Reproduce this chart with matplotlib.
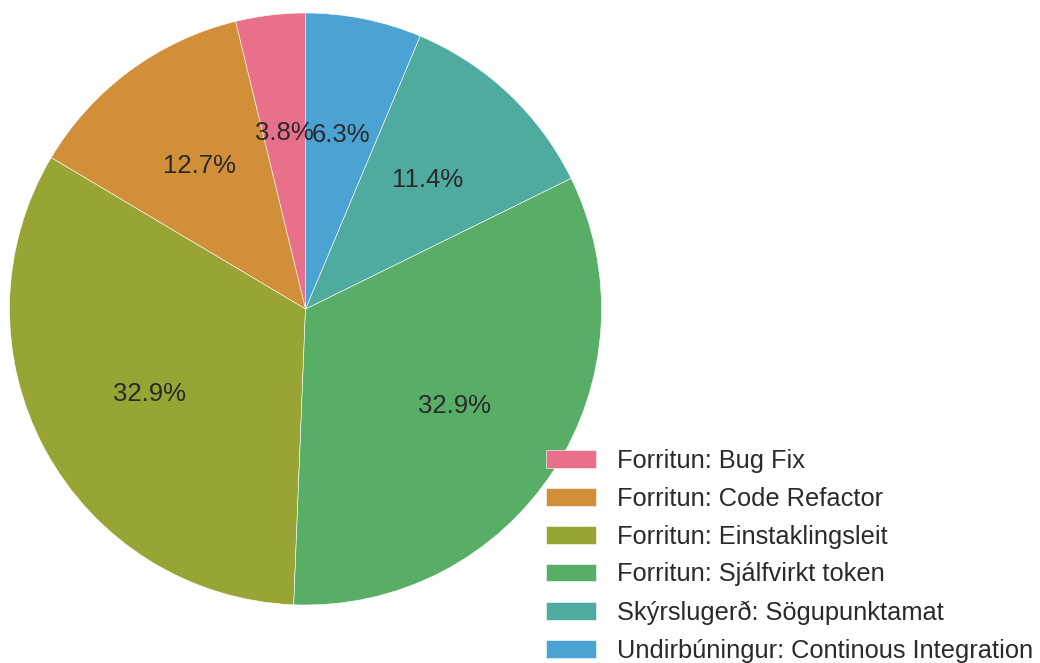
import matplotlib
matplotlib.use("Agg")
import matplotlib.pyplot as plt
import seaborn as sns

categories = [
    "Forritun: Bug Fix",
    "Forritun: Code Refactor",
    "Forritun: Einstaklingsleit",
    "Forritun: Sjálfvirkt token",
    "Skýrslugerð: Sögupunktamat",
    "Undirbúningur: Continous Integration",
]
counts = [3, 10, 26, 26, 9, 5]
colors = ["#e8708a", "#d28f3a", "#98a535", "#58ae66", "#4fab9f", "#4aa3d3"]

sns.set_theme(style="whitegrid")
plt.rcParams["font.family"] = ["Liberation Sans", "DejaVu Sans"]

W, H = 1040, 663
fig = plt.figure(figsize=(W / 100, H / 100), dpi=100)
cx, cy, r = 305.5, 309, 296
ax = fig.add_axes([(cx - r) / W, (H - cy - r) / H, 2 * r / W, 2 * r / H])

wedges, texts, autotexts = ax.pie(
    counts,
    colors=colors,
    startangle=90,
    autopct="%1.1f%%",
    pctdistance=0.6,
    wedgeprops=dict(edgecolor="white", linewidth=0.4),
    textprops=dict(fontsize=18.5, color="#2a2a2a"),
)
ax.set_xlim(-1, 1)
ax.set_ylim(-1, 1)
ax.set_aspect("equal")
ax.axis("off")

fig.legend(
    wedges,
    categories,
    loc="lower right",
    bbox_to_anchor=(1043 / W, -10 / H),
    frameon=False,
    fontsize=18.3,
    labelcolor="#2a2a2a",
    borderaxespad=0.0,
    labelspacing=0.55,
)

fig.savefig("out.png", dpi=100)
